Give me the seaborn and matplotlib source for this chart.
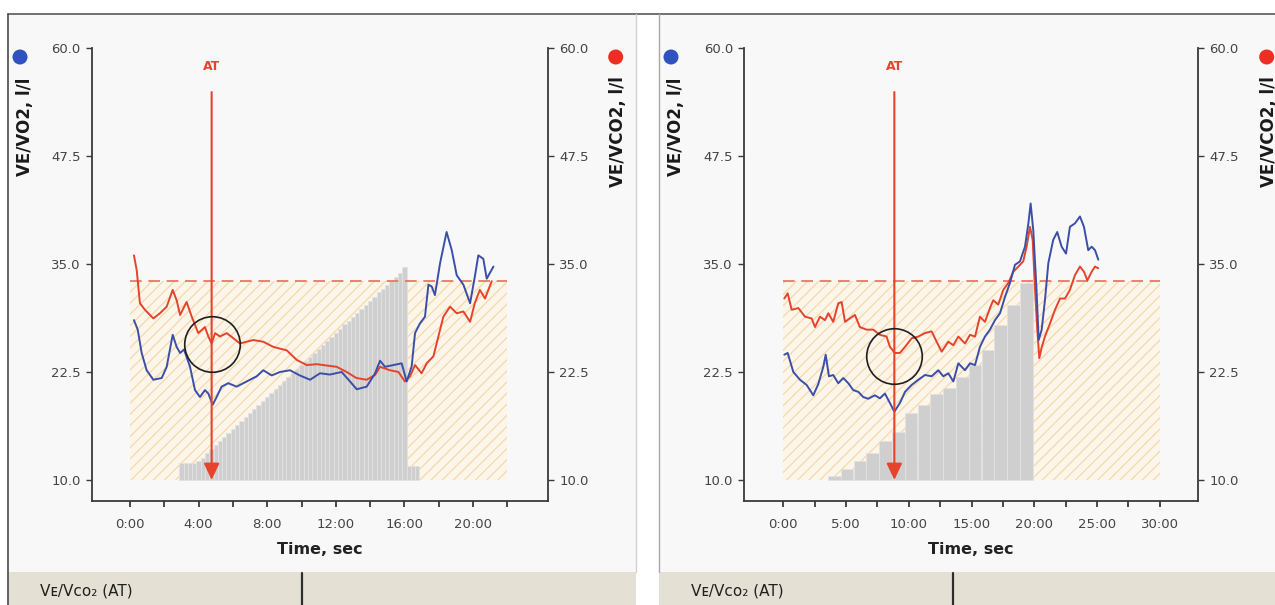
import numpy as np
import pandas as pd
import matplotlib
matplotlib.use("Agg")
import matplotlib.pyplot as plt
from matplotlib.patches import Rectangle, Ellipse
import seaborn as sns

# ------------------------------------------------------------------ data
# Left test (ramp protocol) -- time in minutes, ratios in l/l
left_vco2_time = [0.23, 0.39, 0.58, 0.87, 1.36, 1.75, 2.14, 2.49, 2.72, 2.92, 3.3, 3.6,
                  3.98, 4.37, 4.57, 4.76, 4.96, 5.25, 5.64, 6.03, 6.41, 7.19, 7.77, 8.36,
                  9.14, 9.72, 10.3, 10.9, 11.27, 12.05, 12.63, 13.2, 13.8, 14.29, 14.58,
                  15.16, 15.65, 16.03, 16.33, 16.62, 17.0, 17.3, 17.69, 17.98, 18.27,
                  18.66, 19.05, 19.44, 19.83, 20.1, 20.4, 20.7, 21.09]
left_vco2 = [36.0, 34.3, 30.45, 29.7, 28.7, 29.3, 30.06, 32.0, 30.8, 29.1, 30.6, 28.9,
             27.0, 27.7, 26.6, 25.8, 27.0, 26.6, 27.0, 26.4, 25.8, 26.2, 26.0, 25.4,
             25.0, 23.9, 23.3, 23.4, 23.3, 23.1, 22.5, 21.8, 21.6, 22.15, 23.1,
             22.7, 22.5, 21.4, 22.0, 23.3, 22.35, 23.5, 24.3, 26.6, 28.9,
             30.06, 29.3, 29.5, 28.3, 30.45, 32.0, 31.0, 33.0]
left_vo2_time = [0.23, 0.45, 0.68, 0.97, 1.36, 1.85, 2.14, 2.49, 2.72, 2.92, 3.15, 3.5,
                 3.79, 4.08, 4.37, 4.57, 4.82, 5.05, 5.34, 5.73, 6.22, 6.8, 7.39, 7.77,
                 8.26, 8.75, 9.33, 9.9, 10.5, 11.08, 11.66, 12.34, 12.83, 13.22, 13.8,
                 14.29, 14.58, 14.87, 15.36, 15.84, 16.13, 16.42, 16.62, 16.9, 17.2,
                 17.4, 17.59, 17.78, 18.08, 18.46, 18.76, 19.05, 19.44, 19.83, 20.12,
                 20.31, 20.6, 20.8, 21.19]
left_vo2 = [28.5, 27.4, 24.7, 22.7, 21.6, 21.8, 23.1, 26.8, 25.4, 24.7, 25.1, 23.1,
            20.4, 19.6, 20.4, 20.0, 18.7, 19.6, 20.8, 21.2, 20.8, 21.4, 22.0, 22.7,
            22.1, 22.5, 22.7, 22.1, 21.6, 22.35, 22.2, 22.5, 21.4, 20.5, 20.8,
            22.35, 23.8, 23.1, 23.3, 23.5, 21.4, 23.1, 27.0, 28.1, 28.9,
            32.6, 32.4, 31.4, 35.1, 38.7, 36.6, 33.7, 32.6, 30.45, 33.7,
            36.0, 35.6, 33.3, 34.7]
left_load_time = [3.0, 3.25, 3.5, 3.75, 4.0, 4.25, 4.5, 4.75, 5.0, 5.25, 5.5, 5.75,
                  6.0, 6.25, 6.5, 6.75, 7.0, 7.25, 7.5, 7.75, 8.0, 8.25, 8.5, 8.75,
                  9.0, 9.25, 9.5, 9.75, 10.0, 10.25, 10.5, 10.75, 11.0, 11.25, 11.5,
                  11.75, 12.0, 12.25, 12.5, 12.75, 13.0, 13.25, 13.5, 13.75, 14.0,
                  14.25, 14.5, 14.75, 15.0, 15.25, 15.5, 15.75, 16.0, 16.25, 16.5, 16.75]
left_load = [12.0, 12.0, 12.0, 12.0, 12.2, 12.6, 13.1, 13.6, 14.0, 14.5, 15.0, 15.4,
             15.9, 16.4, 16.8, 17.3, 17.8, 18.2, 18.7, 19.1, 19.6, 20.1, 20.5, 21.0,
             21.5, 21.9, 22.4, 22.9, 23.3, 23.8, 24.2, 24.7, 25.2, 25.6, 26.1,
             26.6, 27.0, 27.5, 28.0, 28.4, 28.9, 29.3, 29.8, 30.3, 30.7,
             31.2, 31.7, 32.1, 32.6, 33.0, 33.5, 34.0, 34.6, 11.6, 11.6, 11.6]
left_at_time = 4.76
left_at_vco2 = 25.7
left_x_ticks = [0, 2, 4, 6, 8, 10, 12, 14, 16, 18, 20, 22]
left_x_labels = ["0:00", "", "4:00", "", "8:00", "", "12:00", "", "16:00", "", "20:00", ""]
left_band_end = 22.0

# Right test (step protocol)
right_vco2_time = [0.08, 0.35, 0.67, 1.2, 1.73, 2.26, 2.53, 2.92, 3.32, 3.59, 3.98, 4.38,
                   4.65, 4.92, 5.31, 5.71, 6.1, 6.64, 7.17, 7.7, 8.23, 8.5, 8.9, 9.29,
                   9.7, 10.23, 10.76, 11.29, 11.82, 12.22, 12.62, 13.15, 13.55, 13.95,
                   14.48, 14.88, 15.28, 15.67, 16.07, 16.47, 16.73, 17.13, 17.53, 17.93,
                   18.33, 18.73, 19.12, 19.39, 19.66, 19.87, 20.06, 20.24, 20.4, 20.6,
                   20.85, 21.25, 21.65, 22.05, 22.45, 22.84, 23.24, 23.64, 23.96, 24.23,
                   24.57, 24.84, 25.1]
right_vco2 = [31.0, 31.6, 29.7, 29.9, 28.9, 28.7, 27.7, 28.9, 28.5, 29.3, 28.3, 30.45,
              30.6, 28.3, 28.7, 29.1, 27.7, 27.4, 27.4, 26.8, 26.6, 25.4, 24.7, 24.7,
              25.4, 26.4, 26.6, 27.0, 27.2, 26.0, 24.85, 26.0, 25.6, 26.6,
              25.8, 26.8, 26.6, 28.9, 28.3, 29.9, 30.8, 30.3, 32.0, 32.8,
              34.1, 34.7, 35.3, 37.0, 39.3, 37.8, 32.0, 27.4, 24.1, 25.4,
              26.6, 28.1, 29.7, 31.0, 31.0, 32.0, 33.7, 34.7, 34.1, 33.1,
              34.1, 34.7, 34.5]
right_vo2_time = [0.08, 0.35, 0.8, 1.33, 1.86, 2.39, 2.79, 3.19, 3.38, 3.64, 3.98, 4.38,
                  4.78, 5.18, 5.58, 5.98, 6.37, 6.77, 7.3, 7.7, 8.1, 8.5, 8.85, 9.29,
                  9.7, 10.23, 10.76, 11.29, 11.82, 12.35, 12.75, 13.15, 13.55, 13.95,
                  14.48, 14.88, 15.28, 15.67, 16.07, 16.47, 16.87, 17.27, 17.67, 18.06,
                  18.46, 18.86, 19.26, 19.53, 19.71, 19.92, 20.18, 20.35, 20.59, 20.85,
                  21.12, 21.51, 21.83, 22.18, 22.53, 22.84, 23.24, 23.64, 23.96, 24.3,
                  24.57, 24.84, 25.1]
right_vo2 = [24.5, 24.7, 22.5, 21.6, 21.0, 19.8, 21.1, 23.1, 24.5, 22.0, 22.15, 21.2,
             21.8, 21.2, 20.4, 20.2, 19.6, 19.4, 19.8, 19.45, 20.0, 18.9, 17.9, 18.9,
             20.2, 21.0, 21.6, 22.15, 22.0, 22.7, 22.0, 22.35, 21.4, 23.5,
             22.7, 23.5, 23.3, 25.4, 26.6, 27.4, 28.5, 29.3, 31.2, 32.8,
             34.9, 35.3, 37.0, 39.7, 42.0, 38.9, 32.0, 26.2, 27.4, 30.8,
             35.1, 37.8, 38.7, 37.0, 36.2, 39.3, 39.7, 40.5, 39.3, 36.6,
             37.0, 36.6, 35.5]
right_load_time = [4.07, 5.09, 6.11, 7.13, 8.15, 9.17, 10.19, 11.21, 12.23, 13.25,
                   14.27, 15.29, 16.31, 17.33, 18.35, 19.37]
right_load = [10.5, 11.3, 12.2, 13.1, 14.5, 15.5, 17.8, 18.7, 19.9, 20.6,
              21.9, 23.3, 25.0, 27.9, 30.3, 32.8]
right_at_time = 8.85
right_at_vco2 = 24.3
right_x_ticks = [0, 2.5, 5, 7.5, 10, 12.5, 15, 17.5, 20, 22.5, 25, 27.5, 30]
right_x_labels = ["0:00", "", "5:00", "", "10:00", "", "15:00", "", "20:00", "",
                  "25:00", "", "30:00"]
right_band_end = 30.0

y_ticks = [10.0, 22.5, 35.0, 47.5, 60.0]
threshold = 33.0
band_floor = 10.0
at_label = "AT"
left_axis_label = "VE/VO2, l/l"
right_axis_label = "VE/VCO2, l/l"
x_axis_label = "Time, sec"
strip_label = "V\u1d07/Vco\u2082 (AT)"

# ------------------------------------------------------------------ style
sns.set_theme(style="ticks")
plt.rcParams["font.family"] = ["DejaVu Sans"]
plt.rcParams["hatch.linewidth"] = 0.85

RED = "#e5432c"
BLUE = "#3b4ea8"
W, H = 1275, 605

fig = plt.figure(figsize=(W / 100, H / 100), dpi=100)
fig.patch.set_facecolor("white")


def fx(px):
    return px / W


def fy(py):
    return 1 - py / H


# background frame (layout only, pixel coordinates)
bg = fig.add_axes([0, 0, 1, 1], zorder=-10)
bg.set_xlim(0, W)
bg.set_ylim(H, 0)
bg.axis("off")
for x0, x1 in [(8, 636), (659, 1275)]:
    bg.add_patch(Rectangle((x0, 14), x1 - x0, 558, facecolor="#f8f8f8", edgecolor="none"))
    bg.add_patch(Rectangle((x0, 572), x1 - x0, 33, facecolor="#e4e1d4", edgecolor="none"))
    bg.plot([x0 + 294, x0 + 294], [573, 605], color="#2e2e2e", lw=1.6)
bg.plot([8, W], [14, 14], color="#5a5a5a", lw=1.2)
bg.plot([8, 8], [14, 605], color="#4a4a4a", lw=1.2)
bg.plot([636, 636], [14, 572], color="#d2d2d2", lw=1.0)
bg.plot([659, 659], [14, 572], color="#a8a8a8", lw=1.0)


def panel(off, ax_x0, ax_x1, xlim, vco2_t, vco2, vo2_t, vo2, load_t, load, load_w,
          at_t, at_v, xticks, xlabels, band_end):
    ax = fig.add_axes([fx(ax_x0), fy(500.7), fx(ax_x1) - fx(ax_x0), fy(48) - fy(500.7)])
    ax.patch.set_visible(False)
    ax.set_xlim(*xlim)
    ax.set_ylim(7.6, 60)

    # hatched reference band
    ax.fill_between([0, band_end], band_floor, threshold, facecolor="#fcf6ea",
                    edgecolor="#f7d6a8", hatch="///", linewidth=0, zorder=1)
    # workload bars
    ax.bar(load_t, np.array(load) - band_floor, bottom=band_floor, width=load_w,
           color="#cfcfcf", edgecolor="#e2e2e2", linewidth=0.6, zorder=2)
    # threshold dashed line
    ax.hlines(threshold, 0, band_end, colors="#ec6b5b", linestyles=(0, (7, 4)),
              lw=1.2, zorder=3)
    # curves
    sns.lineplot(x=vco2_t, y=vco2, ax=ax, color=RED, lw=1.4, estimator=None, zorder=4)
    sns.lineplot(x=vo2_t, y=vo2, ax=ax, color=BLUE, lw=1.4, estimator=None, zorder=4)
    # AT arrow, label and circle
    ax.annotate("", xy=(at_t, band_floor), xytext=(at_t, 54.9),
                arrowprops=dict(arrowstyle="-|>,head_length=1.0,head_width=0.47",
                                color=RED, lw=1.5, shrinkA=0, shrinkB=0,
                                mutation_scale=10), zorder=6)
    ax.text(at_t, 57.9, at_label, color=RED, fontsize=9, fontweight="bold",
            ha="center", va="center", zorder=6)
    ax.plot([at_t], [at_v], marker="o", ms=40, mfc="none", mec="#1f1f1f", mew=1.2,
            zorder=7)

    # axes styling
    for s in ["left", "right", "bottom"]:
        ax.spines[s].set_visible(True)
        ax.spines[s].set_color("#3a3a3a")
        ax.spines[s].set_linewidth(1.3)
    ax.spines["top"].set_visible(False)
    ax.set_yticks(y_ticks)
    ax.set_yticklabels([f"{v:.1f}" for v in y_ticks])
    ax.tick_params(axis="y", left=True, right=True, labelleft=True, labelright=True,
                   direction="out", length=4.5, width=1.0, color="#3a3a3a",
                   labelcolor="#444444", labelsize=9.5, pad=3.5)
    ax.set_xticks(xticks)
    ax.set_xticklabels(xlabels)
    ax.tick_params(axis="x", bottom=True, direction="out", length=4.5, width=1.3,
                   color="#3a3a3a", labelcolor="#444444", labelsize=9.5, pad=8)
    ax.set_xlabel(x_axis_label, fontsize=11.5, fontweight="bold", color="#222222")
    ax.xaxis.set_label_coords(0.5, -0.107)
    ax.xaxis.label.set_va("center")
    ax.set_ylabel("")
    ax.grid(False)

    # side labels and series dots (layout, pixel coordinates)
    fig.text(fx(25 + off), fy(127), left_axis_label, rotation=90, fontsize=12,
             fontweight="bold", color="#1a1a1a", ha="center", va="center")
    fig.text(fx(618 + off), fy(132), right_axis_label, rotation=90, fontsize=12,
             fontweight="bold", color="#1a1a1a", ha="center", va="center")
    bg.add_patch(Ellipse((20 + off, 57), 15, 15, facecolor="#2f52c0", edgecolor="none"))
    bg.add_patch(Ellipse((615.7 + off, 57), 15, 15, facecolor="#ee2e22", edgecolor="none"))
    fig.text(fx(40 + off), fy(591), strip_label, fontsize=11, color="#202020",
             ha="left", va="center")
    return ax


panel(0, 91.7, 548.3, (-2.233, 24.39), left_vco2_time, left_vco2, left_vo2_time,
      left_vo2, left_load_time, left_load, 0.25, left_at_time, left_at_vco2,
      left_x_ticks, left_x_labels, left_band_end)
panel(651, 744.0, 1198.3, (-3.13, 33.07), right_vco2_time, right_vco2, right_vo2_time,
      right_vo2, right_load_time, right_load, 1.0, right_at_time, right_at_vco2,
      right_x_ticks, right_x_labels, right_band_end)

fig.savefig("out.png", dpi=100, facecolor=fig.get_facecolor())
